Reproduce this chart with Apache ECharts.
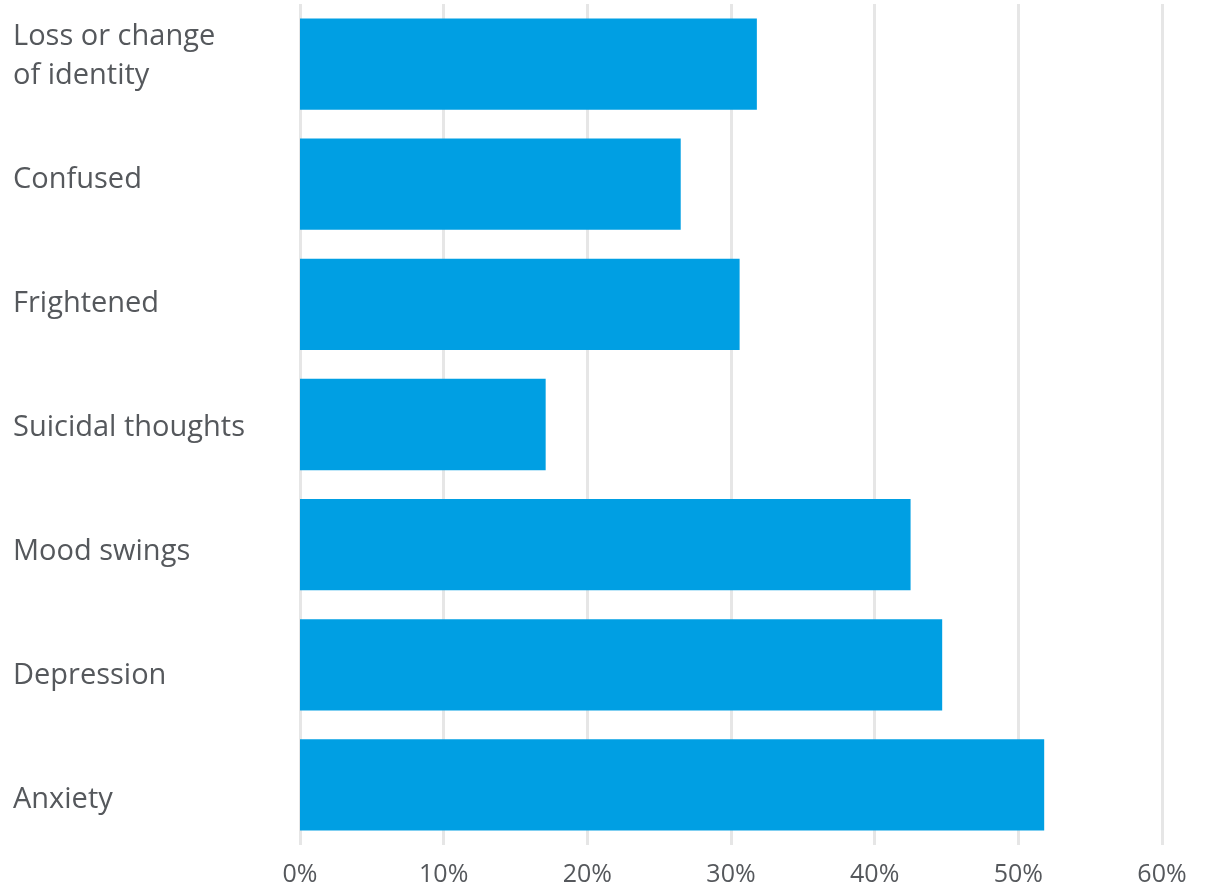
<!DOCTYPE html>
<html>
<head>
<meta charset="utf-8">
<script src="https://cdn.jsdelivr.net/npm/echarts@6/dist/echarts.min.js"></script>
<style>
  html, body { margin: 0; padding: 0; background: #fff; }
  #echart-box { width: 1206px; height: 888px; }
</style>
</head>
<body>
<div id="echart-box"></div>
<script>
// categories from bottom to top (category axis starts at the bottom)
var categories = ['Anxiety', 'Depression', 'Mood swings', 'Suicidal thoughts', 'Frightened', 'Confused', 'Loss or change\nof identity'];
var values = [51.8, 44.7, 42.5, 17.1, 30.6, 26.5, 31.8];
var xTicks = [0, 10, 20, 30, 40, 50, 60];

function init() {
    const element = document.getElementById("echart-box");
    const instance = echarts.init(element);

    var option = {
      animation: false,
      grid: [
        // bars
        { left: 300, right: 44, top: 4, bottom: 43, outerBoundsMode: 'none' },
        // category labels are spaced a little wider than the bars
        { left: 300, right: 44, top: -6, bottom: 26, outerBoundsMode: 'none' }
      ],
      xAxis: [
        {
          type: 'value',
          gridIndex: 0,
          min: xTicks[0],
          max: xTicks[xTicks.length - 1],
          interval: 10,
          axisLine: { show: false },
          axisTick: { show: false },
          splitLine: {
            show: true,
            lineStyle: { color: '#e6e6e6', width: 3 }
          },
          axisLabel: {
            formatter: '{value}%',
            color: '#55585c',
            fontSize: 25,
            fontFamily: 'Open Sans',
            margin: 17
          }
        },
        {
          type: 'value',
          gridIndex: 1,
          show: false
        }
      ],
      yAxis: [
        {
          type: 'category',
          gridIndex: 0,
          data: categories,
          axisLine: { show: false },
          axisTick: { show: false },
          axisLabel: { show: false }
        },
        {
          type: 'category',
          gridIndex: 1,
          data: categories,
          axisLine: { show: false },
          axisTick: { show: false },
          splitLine: { show: false },
          axisLabel: {
            align: 'left',
            margin: 287,
            color: '#55585c',
            fontSize: 29,
            lineHeight: 39,
            fontFamily: 'Open Sans'
          }
        }
      ],
      series: [
        {
          type: 'bar',
          xAxisIndex: 0,
          yAxisIndex: 0,
          data: values,
          barCategoryGap: '24%',
          itemStyle: { color: '#009fe3' }
        }
      ]
    };
    instance.setOption(option);

    window.onresize = function () {
        instance.resize();
    };
}
init();
</script>
</body>
</html>
